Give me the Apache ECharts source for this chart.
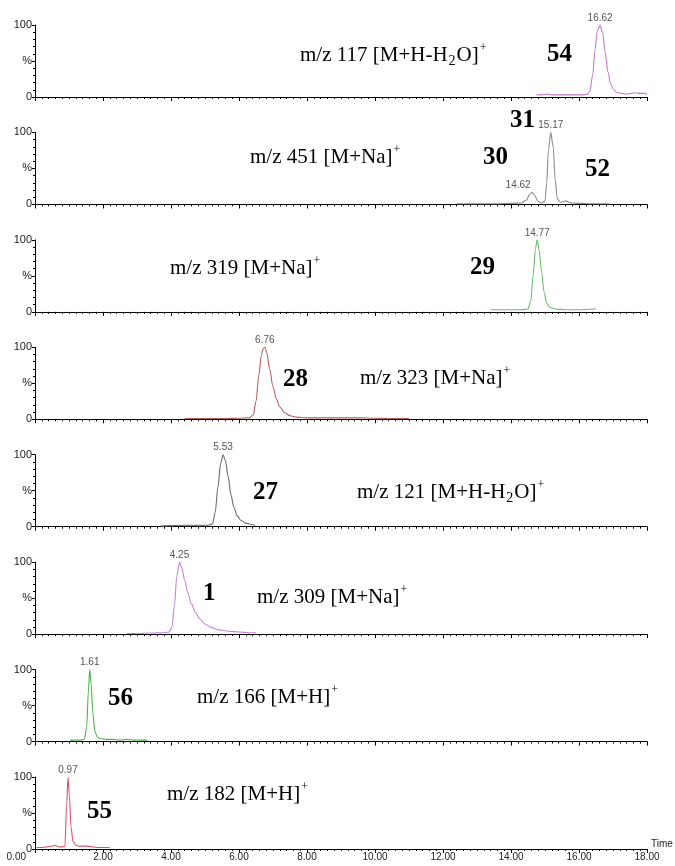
<!DOCTYPE html>
<html><head><meta charset="utf-8">
<script src="https://cdn.jsdelivr.net/npm/echarts@6/dist/echarts.min.js"></script>
<style>html,body{margin:0;padding:0;background:#fff}#c{width:675px;height:866px}</style>
</head><body><div id="c"></div>
<script>
// ---- data ----
const xTickLabels = ['0.00','2.00','4.00','6.00','8.00','10.00','12.00','14.00','16.00','18.00'];
const yTickLabels = ['0','%','100'];

const t1 = [14.75,14.9,15.05,15.2,15.4,15.6,15.8,16.0,16.15,16.25,16.32,16.4,16.47,16.54,16.62,16.7,16.77,16.85,16.93,17.02,17.12,17.25,17.4,17.55,17.65,17.75,17.9,18.0];
const i1 = [3,3,4,3,3,3,3,3,3,4,8,30,65,92,100,88,62,35,18,10,6,5,4,5,6,5,5,4];
const t2 = [12.4,12.8,13.2,13.6,14.0,14.3,14.45,14.55,14.62,14.7,14.8,14.9,15.0,15.05,15.1,15.17,15.24,15.3,15.36,15.45,15.55,15.62,15.7,15.8,16.0,16.4,16.9];
const i2 = [1,1,1,1,1.5,2,6,14,17,12,4,2,5,30,75,100,80,35,8,3,4,5,3,2,1.5,1,1];
const t3 = [13.4,13.7,14.0,14.3,14.5,14.58,14.65,14.72,14.77,14.83,14.9,14.97,15.05,15.15,15.3,15.6,16.0,16.5];
const i3 = [3,3,3,3,4,15,50,88,100,85,55,28,12,6,4,3,3,4];
const t4 = [4.4,5.0,5.6,6.0,6.3,6.42,6.5,6.58,6.66,6.72,6.76,6.82,6.9,7.0,7.1,7.2,7.35,7.5,7.7,8.0,8.5,9.0,9.5,10.0,10.5,11.0];
const i4 = [1,1,1,1.5,2,6,25,60,90,99,100,92,70,45,28,17,9,5,3,2,2,2,2,1.5,1,1];
const t5 = [3.7,4.0,4.4,4.8,5.1,5.22,5.3,5.38,5.46,5.53,5.6,5.68,5.76,5.85,5.95,6.05,6.2,6.35,6.47];
const i5 = [1,1.5,2,2,2,4,20,55,88,100,92,70,45,27,15,9,5,3,2];
const t6 = [2.7,3.0,3.4,3.8,3.95,4.03,4.1,4.17,4.25,4.32,4.4,4.5,4.6,4.72,4.85,5.0,5.2,5.4,5.7,6.0,6.3,6.5];
const i6 = [1,1,1.5,2,3,10,40,80,100,92,75,57,42,30,21,14,9,6,4,3,2,2];
const t7 = [1.03,1.2,1.35,1.45,1.52,1.57,1.61,1.65,1.7,1.76,1.84,1.95,2.1,2.3,2.5,2.7,2.9,3.1,3.3];
const i7 = [2,2,2,3,20,70,100,80,40,14,6,4,3,3,2,3,2,2,2];
const t8 = [0.05,0.2,0.35,0.5,0.6,0.7,0.8,0.88,0.93,0.97,1.01,1.06,1.12,1.2,1.3,1.45,1.55,1.7,1.85,2.0,2.2];
const i8 = [2,2,3,4,5,3,3,4,60,100,75,30,10,5,4,4,4,3,2,2,2];

const peakTimes = [[16.62],[15.17,14.62],[14.77],[6.76],[5.53],[4.25],[1.61],[0.97]];
const mzLabels = ['m/z 117 [M+H-H_2O]^+','m/z 451 [M+Na]^+','m/z 319 [M+Na]^+','m/z 323 [M+Na]^+',
                  'm/z 121 [M+H-H_2O]^+','m/z 309 [M+Na]^+','m/z 166 [M+H]^+','m/z 182 [M+H]^+'];
const compoundLabels = [['54'],['31','30','52'],['29'],['28'],['27'],['1'],['56'],['55']];

// ---- layout & style ----
const T = [t1,t2,t3,t4,t5,t6,t7,t8];
const I = [i1,i2,i3,i4,i5,i6,i7,i8];
const colors = ['#c77bc7','#8c8c8c','#6cbc6c','#b85c5c','#6a6a6a','#c384d6','#49b449','#e8506a'];
const L = {
  left:35, right:28, zero0:97, step:107.43, h:72,
  mzPos:[[300,55],[250,157],[170,268],[360,378],[357,492],[257,597],[197,697],[167,794]],
  compPos:[[[547,55]],[[510,121],[483,158],[585,170]],[[470,268]],[[283,380]],[[253,493]],[[203,594]],[[108,699]],[[87,812]]],
  peakOffset:[[[0,0]],[[0,0],[-14,0]],[[0,0]],[[0,0]],[[0,0]],[[0,0]],[[0,0]],[[0,0]]]
};
const sansFont = 'Liberation Sans, Arial, sans-serif';
const serifFont = 'Liberation Serif, Times New Roman, serif';

function toRich(s){
  let out='', buf='';
  for(let i=0;i<s.length;i++){
    const c=s[i];
    if(c==='_'||c==='^'){
      if(buf){out+='{n|'+buf+'}';buf='';}
      out+='{'+(c==='_'?'b':'t')+'|'+s[i+1]+'}'; i++;
    } else buf+=c;
  }
  if(buf) out+='{n|'+buf+'}';
  return out;
}

const grids=[], xAxes=[], yAxes=[], series=[], graphics=[];
for(let k=0;k<8;k++){
  const zero = L.zero0 + k*L.step;
  const last = k===7;
  grids.push({left:L.left,right:L.right,top:zero-L.h,height:L.h,outerBoundsMode:'none',containLabel:false});
  xAxes.push({type:'value',gridIndex:k,min:0,max:18,interval:2,
    axisLine:{show:true,onZero:false,lineStyle:{color:'#000',width:1}},
    axisTick:{show:true,length:4,lineStyle:{color:'#000'}},
    minorTick:{show:true,splitNumber:10,length:2,lineStyle:{color:'#000'}},
    splitLine:{show:false},
    axisLabel:{show:last,fontFamily:sansFont,fontSize:10,color:'#222',margin:3,alignMinLabel:'right',
      formatter:v=>{const s=xTickLabels[Math.round(v/2)];return v===0?'{m|'+s+'}':s;},
      rich:{m:{fontFamily:sansFont,fontSize:10,color:'#222',padding:[0,9,0,0]}}},
    name:last?'Time':'',nameLocation:'end',nameGap:4,
    nameTextStyle:{fontFamily:sansFont,fontSize:10,color:'#222',verticalAlign:'bottom'}
  });
  yAxes.push({type:'value',gridIndex:k,min:0,max:100,interval:50,
    axisLine:{show:true,lineStyle:{color:'#000',width:1}},
    axisTick:{show:true,length:3,lineStyle:{color:'#000'}},
    minorTick:{show:true,splitNumber:5,length:2,lineStyle:{color:'#000'}},
    splitLine:{show:false},
    axisLabel:{fontFamily:sansFont,fontSize:11,color:'#222',margin:3,formatter:v=>yTickLabels[Math.round(v/50)]}
  });
  const data = T[k].map((t,j)=>[t,I[k][j]]);
  series.push({type:'line',xAxisIndex:k,yAxisIndex:k,data,showSymbol:false,smooth:0.3,smoothMonotone:'x',
    lineStyle:{color:colors[k],width:1.1},itemStyle:{color:colors[k]},z:3,silent:true,
    markPoint:{symbol:'circle',symbolSize:0,silent:true,
      data:peakTimes[k].map((pt,j)=>({coord:[pt,I[k][T[k].indexOf(pt)]],value:pt,
        label:{offset:L.peakOffset[k][j]}})),
      label:{show:true,position:'top',distance:2,fontFamily:sansFont,fontSize:10,color:'#555',
        formatter:p=>p.value.toFixed(2)}}
  });
  graphics.push({type:'text',x:L.mzPos[k][0],y:L.mzPos[k][1],silent:true,
    style:{text:toRich(mzLabels[k]),verticalAlign:'middle',align:'left',
      rich:{n:{fontFamily:serifFont,fontSize:21,lineHeight:26,color:'#000'},
            b:{fontFamily:serifFont,fontSize:14,verticalAlign:'bottom',color:'#000',padding:[0,1,0,1]},
            t:{fontFamily:serifFont,fontSize:12,verticalAlign:'top',color:'#000',padding:[0,0,0,1]}}}});
  compoundLabels[k].forEach((c,j)=>{
    graphics.push({type:'text',x:L.compPos[k][j][0],y:L.compPos[k][j][1],silent:true,
      style:{text:c,fontFamily:serifFont,fontSize:25,fontWeight:'bold',fill:'#000',verticalAlign:'middle',align:'left'}});
  });
}

const chart = echarts.init(document.getElementById('c'),null,{renderer:'canvas'});
chart.setOption({animation:false,backgroundColor:'#fff',grid:grids,xAxis:xAxes,yAxis:yAxes,series,graphic:graphics});
</script></body></html>
